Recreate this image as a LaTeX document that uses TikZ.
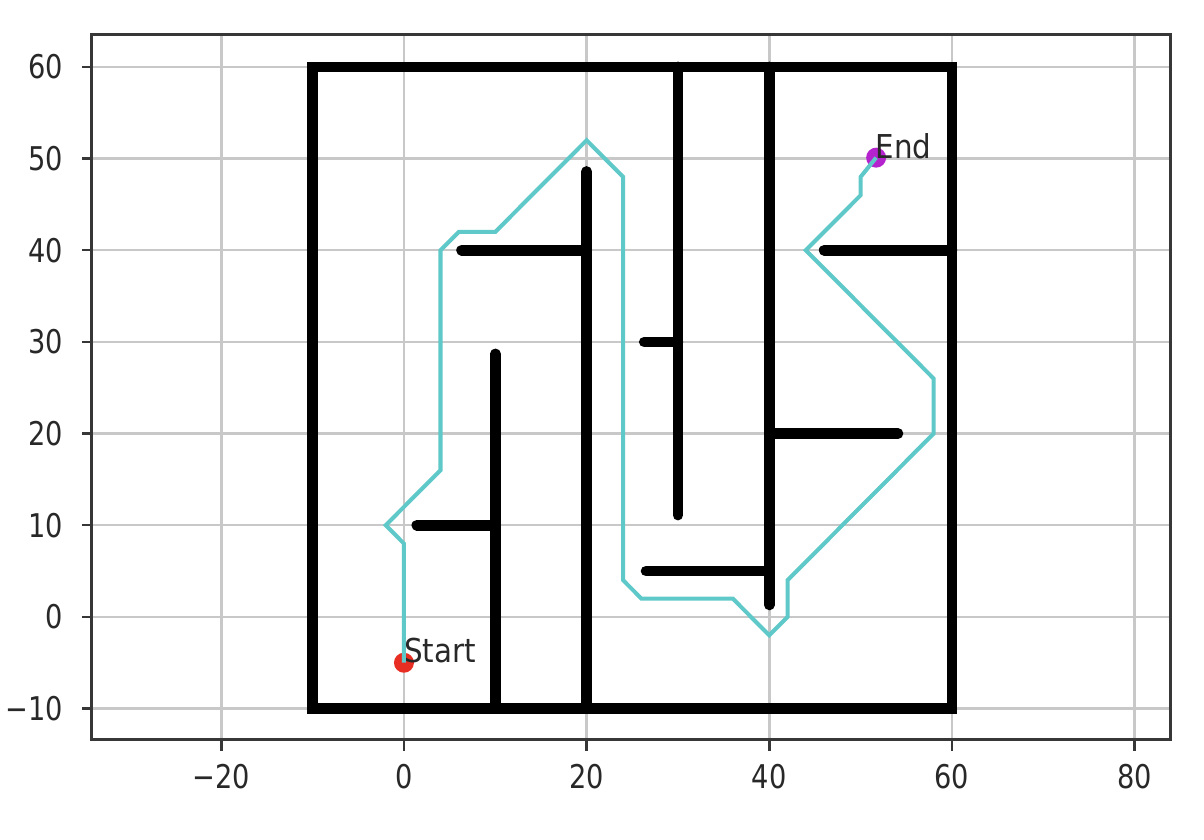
\documentclass[tikz,border=0pt]{standalone}
\usepackage{fontspec}
\setmainfont{DejaVu Sans}
\usetikzlibrary{positioning}
\definecolor{pathcyan}{RGB}{95,200,200}
\definecolor{startred}{RGB}{232,45,35}
\definecolor{endmag}{RGB}{180,35,205}
\definecolor{gridgray}{RGB}{200,200,200}
\definecolor{axgray}{RGB}{55,55,55}
\definecolor{txtgray}{RGB}{40,40,40}
\newcommand{\tallx}[2]{\scalebox{1}[#1]{#2}}
\tikzset{
  gridln/.style={gridgray, line width=1.4pt},
  spine/.style={axgray, line width=1.6pt},
  tickln/.style={axgray, line width=1.4pt},
  ticklbl/.style={text=txtgray, inner sep=0pt, font=\fontsize{15.5}{18}\selectfont},
  wall/.style={black, line width=6pt, line cap=round},
  route/.style={pathcyan, line width=2.3pt, line join=miter},
  marker/.style={circle, inner sep=0pt, minimum size=0.4cm},
  ptlbl/.style={text=txtgray, inner sep=0pt, anchor=base west, font=\fontsize{16.7}{20}\selectfont},
}

\begin{document}
\begin{tikzpicture}[x=0.18266cm, y=0.18334cm]
  \useasboundingbox (-44.23,-24.33) rectangle (87.6,67.3);
  % grid
  \foreach \gx in {-20,0,...,80} \draw[gridln] (\gx,-13.4) -- (\gx,63.5);
  \foreach \gy in {-10,0,...,60} \draw[gridln] (-34.2,\gy) -- (83.9,\gy);
  % maze walls
  \draw[wall, line cap=butt, line join=miter] (-10,-10) rectangle (60,60);
  \draw[wall] (10,-10) -- (10,28.7);
  \draw[wall] (1.4,10) -- (10,10);
  \draw[wall] (20,-10) -- (20,48.6);
  \draw[wall] (6.3,40) -- (20,40);
  \draw[wall] (30,60) -- (30,11.1);
  \draw[wall] (26.3,30) -- (30,30);
  \draw[wall] (40,60) -- (40,1.3);
  \draw[wall] (26.5,5) -- (40,5);
  \draw[wall] (40,20) -- (54.1,20);
  \draw[wall] (46,40) -- (60,40);
  % start and goal
  \node[marker, fill=startred] (start) at (0,-5) {};
  \node[marker, fill=endmag] (goal) at (51.7,50.1) {};
  \draw[route] (start.center) -- (0,8) -- (-2,10) -- (4,16) -- (4,40) -- (6,42) -- (10,42)
    -- (20,52) -- (24,48) -- (24,4) -- (26,2) -- (36,2) -- (40,-2) -- (42,0) -- (42,4)
    -- (58,20) -- (58,26) -- (44,40) -- (50,46) -- (50,48) -- (goal.center);
  \node[ptlbl] (startlbl) at (start.center) {\tallx{1.12}{Start}};
  \node[ptlbl] (goallbl) at (51.6,50) {\tallx{1.12}{End}};
  % axes
  \draw[spine] (-34.2,-13.4) rectangle (83.9,63.5);
  \foreach \gx/\lb in {-20/−20,0/0,20/20,40/40,60/60,80/80}{
    \draw[tickln] (\gx,-13.4) -- (\gx,-14.6);
    \node[ticklbl] (xt\gx) at (\gx,-17.45) {\tallx{1.2}{\lb}};
  }
  \foreach \gy/\lb in {-10/−10,0/0,10/10,20/20,30/30,40/40,50/50,60/60}{
    \draw[tickln] (-34.2,\gy) -- (-35.3,\gy);
    \node[ticklbl, anchor=east] (yt\gy) at (-37.3,\gy) {\tallx{1.2}{\lb}};
  }
\end{tikzpicture}
\end{document}
